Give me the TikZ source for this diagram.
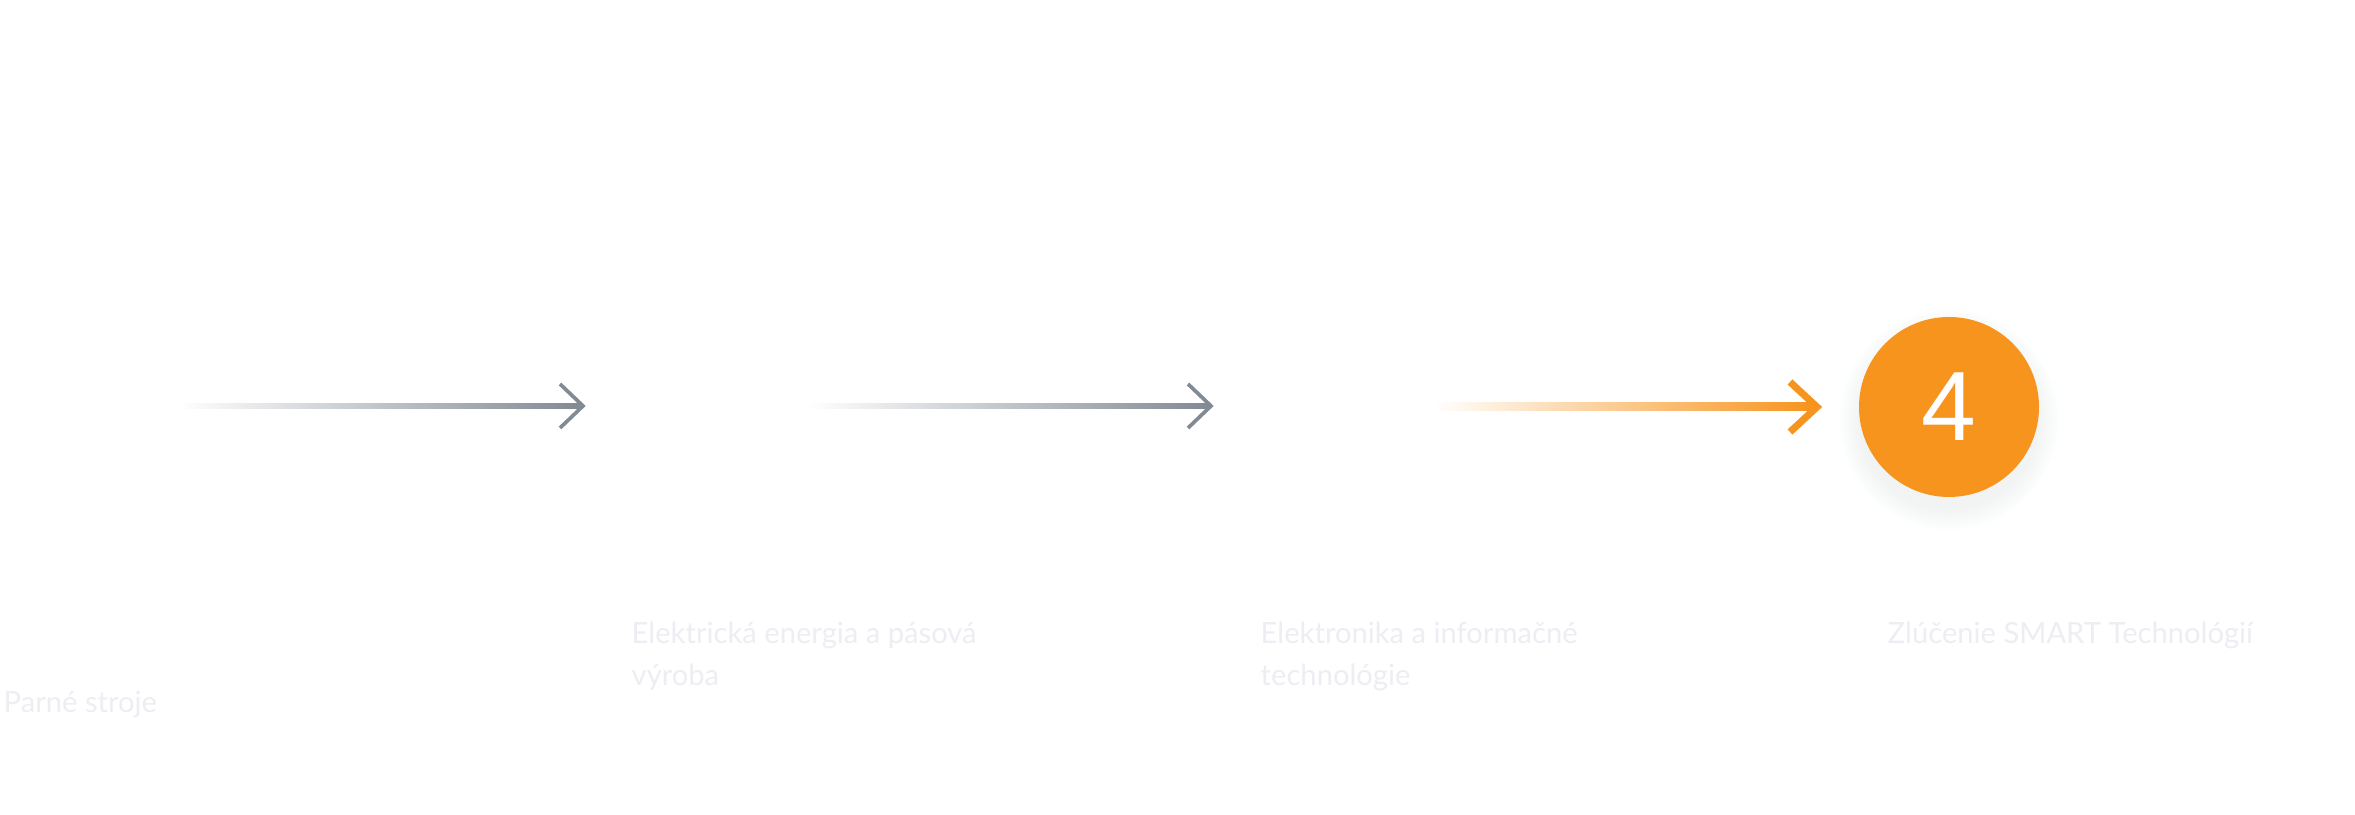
\documentclass[tikz,border=0pt]{standalone}
\usepackage{fontspec}
\setmainfont{Lato}
\newfontfamily\numfont{Liberation Sans}
\usetikzlibrary{arrows.meta,positioning,calc}
\definecolor{StepGray}{HTML}{828A94}
\definecolor{StepOrange}{HTML}{F7941D}
\definecolor{StepText}{HTML}{EDEDF4}
\definecolor{StepShadow}{HTML}{7D8792}

\begin{document}
\begin{tikzpicture}
    \tikzset{steptext/.style={anchor=base west,inner sep=0pt,align=left,text=StepText,
      font=\fontsize{8.3}{12}\selectfont},
      chevron/.style={line cap=butt,line join=miter}}
    \fill[white] (0,0) rectangle (23.55,8.15);
    \useasboundingbox (0,0) rectangle (23.55,8.15);
    % arrow end points
    \coordinate (a1s) at (1.78,4.09);  \coordinate (a1e) at (5.83,4.09);
    \coordinate (a2s) at (8.08,4.09);  \coordinate (a2e) at (12.11,4.09);
    \coordinate (a3s) at (14.34,4.08); \coordinate (a3e) at (18.17,4.08);
    \coordinate (c) at (19.49,4.08);
    % grey arrows
    \foreach \s/\e in {a1s/a1e,a2s/a2e}{
      \shade[left color=white,middle color=StepGray!85,right color=StepGray]
        ($(\s)+(0,-0.021)$) rectangle ($(\e)+(-0.03,0.021)$);
      \draw[StepGray,line width=1.05pt,chevron] ($(\e)+(-0.23,0.22)$) -- (\e) -- ($(\e)+(-0.23,-0.22)$);
    }
    % orange arrow
    \shade[left color=white,middle color=StepOrange!85,right color=StepOrange]
      ($(a3s)+(0,-0.04)$) rectangle ($(a3e)+(-0.05,0.04)$);
    \draw[StepOrange,line width=2pt,chevron] ($(a3e)+(-0.27,0.25)$) -- (a3e) -- ($(a3e)+(-0.27,-0.25)$);
    % soft shadow under the circle
    \foreach \r in {0.90,0.92,...,1.12}{
      \fill[StepShadow,opacity=0.008] ($(c)+(0,-0.13)$) circle (\r);}
    \node[circle,fill=StepOrange,minimum size=1.8cm,inner sep=0pt,text=white,
      font=\numfont\fontsize{28}{28}\selectfont] (n4) at (c) {4};
    % labels
    \node[steptext] (t1) at (0.03,1.02) {Parné stroje};
    \node[steptext] (t2) at (6.31,1.29) {Elektrická energia a pásová\\výroba};
    \node[steptext] (t3) at (12.60,1.29) {Elektronika a informačné\\technológie};
    \node[steptext] (t4) at (18.87,1.71) {Zlúčenie SMART Technológií};
  \end{tikzpicture}
\end{document}
